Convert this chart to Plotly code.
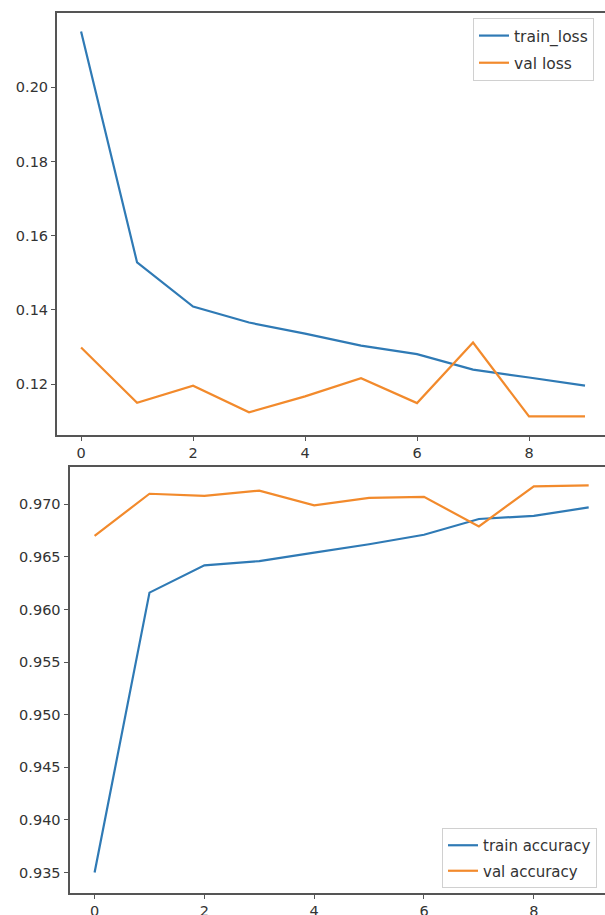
import plotly.graph_objects as go

epochs = list(range(10))
train_loss = [0.2150, 0.1528, 0.1409, 0.1366, 0.1336, 0.1304, 0.1281, 0.1239, 0.1218, 0.1196]
val_loss = [0.1299, 0.1150, 0.1196, 0.1124, 0.1167, 0.1216, 0.1149, 0.1312, 0.1113, 0.1113]
train_acc = [0.9350, 0.9616, 0.9642, 0.9646, 0.9654, 0.9662, 0.9671, 0.9686, 0.9689, 0.9697]
val_acc = [0.9670, 0.9710, 0.9708, 0.9713, 0.9699, 0.9706, 0.9707, 0.9679, 0.9717, 0.9718]

x_ticks = [0, 2, 4, 6, 8]
loss_ticks = [0.12, 0.14, 0.16, 0.18, 0.20]
acc_ticks = [0.935, 0.940, 0.945, 0.950, 0.955, 0.960, 0.965, 0.970]

BLUE = "#2f7ab5"
ORANGE = "#f28a2c"
W, H = 605, 915
FONT = "DejaVu Sans"

fig = go.Figure()
fig.add_trace(go.Scatter(x=epochs, y=train_loss, mode="lines", name="train_loss", legendgroup="a",
                         line=dict(color=BLUE, width=2.2), xaxis="x", yaxis="y", legend="legend"))
fig.add_trace(go.Scatter(x=epochs, y=val_loss, mode="lines", name="val loss", legendgroup="b",
                         line=dict(color=ORANGE, width=2.2), xaxis="x", yaxis="y", legend="legend"))
fig.add_trace(go.Scatter(x=epochs, y=train_acc, mode="lines", name="train accuracy", legendgroup="c",
                         line=dict(color=BLUE, width=2.2), xaxis="x2", yaxis="y2", legend="legend2"))
fig.add_trace(go.Scatter(x=epochs, y=val_acc, mode="lines", name="val accuracy", legendgroup="d",
                         line=dict(color=ORANGE, width=2.2), xaxis="x2", yaxis="y2", legend="legend2"))

axis_common = dict(showgrid=False, zeroline=False, showline=True, linecolor="#555", linewidth=2,
                   ticks="outside", ticklen=4, tickwidth=1, tickcolor="#555",
                   tickfont=dict(family=FONT, size=14.5, color="#333"), automargin=False)

fig.update_layout(
    width=W, height=H, margin=dict(l=0, r=0, t=0, b=0),
    paper_bgcolor="white", plot_bgcolor="white",
    font=dict(family=FONT, size=14, color="#333"),
    xaxis=dict(domain=[57 / W, 1], range=[-0.43, 9.357], tickvals=x_ticks, anchor="y",
               mirror=True, **axis_common),
    yaxis=dict(domain=[1 - 435 / H, 1 - 13 / H], range=[0.1063, 0.2200], tickvals=loss_ticks,
               tickformat=".2f", anchor="x", **axis_common),
    xaxis2=dict(domain=[69.5 / W, 1], range=[-0.457, 9.297], tickvals=x_ticks, anchor="y2",
                mirror=True, **axis_common),
    yaxis2=dict(domain=[1 - 892.5 / H, 1 - 466.7 / H], range=[0.93310, 0.97357], tickvals=acc_ticks,
                tickformat=".3f", anchor="x2", **axis_common),
    legend=dict(x=473 / W, y=1 - 18 / H, xanchor="left", yanchor="top",
                bgcolor="white", bordercolor="#d0d0d0", borderwidth=1,
                font=dict(family=FONT, size=15.5, color="#333"), tracegroupgap=4, itemwidth=30),
    legend2=dict(x=442 / W, y=1 - 828 / H, xanchor="left", yanchor="top",
                 bgcolor="white", bordercolor="#d0d0d0", borderwidth=1,
                 font=dict(family=FONT, size=15, color="#333"), tracegroupgap=3, itemwidth=30),
    showlegend=True,
)

fig.write_html("out.html", config={"displayModeBar": False},
               post_script="document.body.style.margin='0';document.body.style.overflow='hidden';")
